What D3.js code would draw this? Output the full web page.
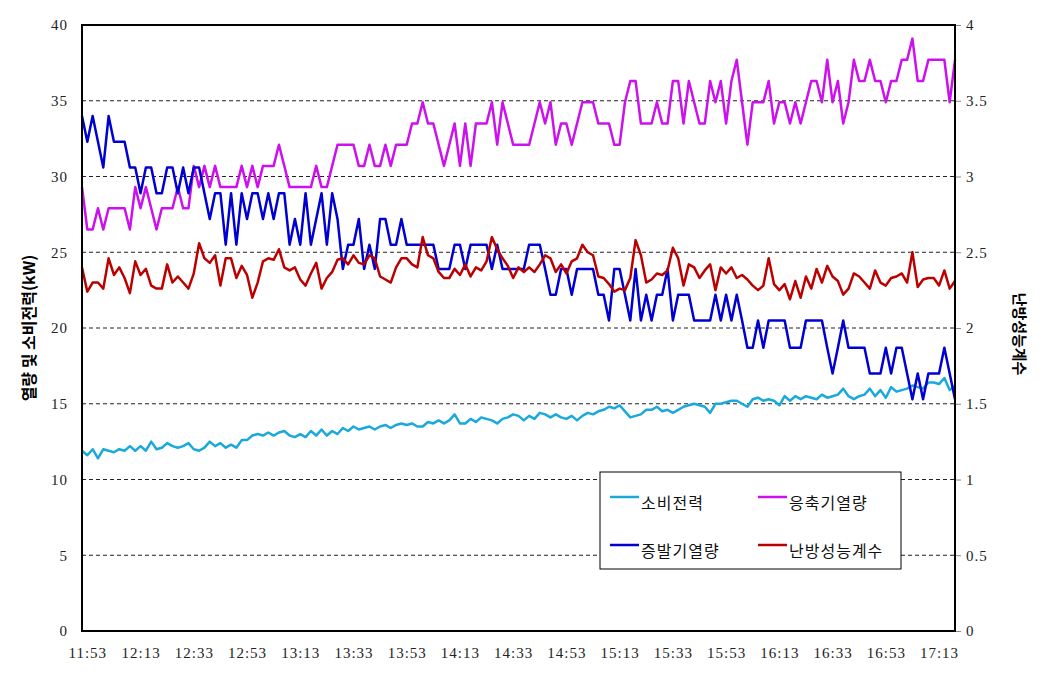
<!DOCTYPE html>
<html><head><meta charset="utf-8">
<script src="https://cdn.jsdelivr.net/npm/d3@7"></script>
<style>body{margin:0;background:#fff} svg{display:block}</style>
</head><body>
<svg id="chart" width="1043" height="679"></svg>
<script>
// ---- data (one sample every 2 minutes, starting 2 minutes before 11:53) ----
const startMinute = -2;
const stepMinutes = 2;
const timeLabels = ["11:53","12:13","12:33","12:53","13:13","13:33","13:53","14:13","14:33","14:53","15:13","15:33","15:53","16:13","16:33","16:53","17:13"];
const tickMinutes = [0,20,40,60,80,100,120,140,160,180,200,220,240,260,280,300,320];
const leftTicks = [0,5,10,15,20,25,30,35,40];
const rightTicks = [0,0.5,1,1.5,2,2.5,3,3.5,4];
const seriesNames = ["소비전력","응축기열량","증발기열량","난방성능계수"];

// 소비전력 (kW)
const power = [
 11.9,11.6,12.0,11.4,12.0,11.9,11.8,12.0,11.9,12.2,11.9,12.2,11.9,12.5,12.0,12.1,12.4,12.2,12.1,12.2,
 12.4,12.0,11.9,12.1,12.5,12.2,12.4,12.1,12.3,12.1,12.6,12.6,12.9,13.0,12.9,13.1,12.9,13.1,13.2,12.9,
 12.8,13.0,12.8,13.2,12.9,13.3,12.9,13.2,13.0,13.4,13.2,13.5,13.3,13.4,13.5,13.3,13.5,13.6,13.4,13.6,13.7,
 13.6,13.7,13.5,13.5,13.8,13.7,13.9,13.7,13.9,14.3,13.7,13.7,14.0,13.8,14.1,14.0,13.9,13.7,14.0,14.1,14.3,
 14.2,13.9,14.2,14.0,14.4,14.3,14.1,14.3,14.1,14.0,14.2,13.9,14.2,14.4,14.3,14.5,14.6,14.8,14.7,14.9,
 14.5,14.1,14.2,14.3,14.6,14.6,14.8,14.5,14.6,14.4,14.6,14.8,14.9,15.0,14.9,14.8,14.4,15.0,15.0,15.1,15.2,
 15.2,15.0,14.8,15.3,15.4,15.2,15.3,15.2,14.9,15.5,15.2,15.5,15.3,15.5,15.4,15.3,15.6,15.4,15.5,15.6,16.0,
 15.5,15.3,15.5,15.6,16.0,15.5,15.9,15.4,16.1,15.8,15.9,16.0,16.2,16.1,16.0,16.4,16.4,16.3,16.7,15.9,16.2
];
// 응축기열량 (kW)
const condenser = [
 29.3,26.5,26.5,27.9,26.5,27.9,27.9,27.9,27.9,26.5,29.3,27.9,29.3,27.9,26.5,27.9,27.9,27.9,29.3,27.9,
 27.9,30.7,29.3,30.7,29.3,30.7,29.3,29.3,29.3,29.3,30.7,29.3,30.7,29.3,30.7,30.7,30.7,32.1,30.7,29.3,
 29.3,29.3,29.3,29.3,30.7,29.3,29.3,30.7,32.1,32.1,32.1,32.1,30.7,30.7,32.1,30.7,30.7,32.1,30.7,32.1,32.1,
 32.1,33.5,33.5,34.9,33.5,33.5,32.1,30.7,32.1,33.5,30.7,33.5,30.7,33.5,33.5,33.5,34.9,32.1,34.9,33.5,32.1,
 32.1,32.1,32.1,33.5,34.9,33.5,34.9,32.1,33.5,33.5,32.1,33.5,34.9,34.9,34.9,33.5,33.5,33.5,32.1,32.1,
 34.9,36.3,36.3,33.5,33.5,33.5,34.9,33.5,33.5,36.3,36.3,33.5,36.3,34.9,33.5,33.5,36.3,34.9,36.3,33.5,36.3,
 37.7,34.9,32.1,34.9,34.9,34.9,36.3,33.5,34.9,34.9,33.5,34.9,33.5,34.9,36.3,36.3,34.9,37.7,34.9,36.3,33.5,
 34.9,37.7,36.3,36.3,37.7,36.3,36.3,34.9,36.3,36.3,37.7,37.7,39.1,36.3,36.3,37.7,37.7,37.7,37.7,34.9,37.7
];
// 증발기열량 (kW)
const evaporator = [
 34.0,32.3,34.0,32.3,30.6,34.0,32.3,32.3,32.3,30.6,30.6,28.9,30.6,30.6,28.9,28.9,30.6,30.6,28.9,30.6,
 28.9,30.6,30.6,28.9,27.2,28.9,28.9,25.5,28.9,25.5,28.9,27.2,28.9,28.9,27.2,28.9,27.2,28.9,28.9,25.5,
 27.2,25.5,28.9,25.5,27.2,28.9,25.5,28.9,27.2,23.9,25.5,25.5,27.2,23.9,25.5,23.9,27.2,27.2,25.5,25.5,27.2,
 25.5,25.5,25.5,25.5,25.5,25.5,23.9,23.9,23.9,25.5,25.5,23.9,25.5,25.5,25.5,25.5,23.9,25.5,23.9,23.9,23.9,
 23.9,23.9,25.5,25.5,25.5,23.9,22.2,22.2,23.9,23.9,22.2,23.9,23.9,23.9,23.9,22.2,22.2,20.5,23.9,23.9,
 22.2,20.5,23.9,20.5,22.2,20.5,22.2,22.2,23.9,20.5,22.2,22.2,22.2,20.5,20.5,20.5,20.5,22.2,20.5,22.2,20.5,
 22.2,20.5,18.7,18.7,20.5,18.7,20.5,20.5,20.5,20.5,18.7,18.7,18.7,20.5,20.5,20.5,20.5,18.7,17.0,18.7,20.5,
 18.7,18.7,18.7,18.7,17.0,17.0,17.0,18.7,17.0,18.7,18.7,17.0,15.3,17.0,15.3,17.0,17.0,17.0,18.7,17.0,15.3
];
// 난방성능계수 (right axis)
const cop = [
 2.40,2.24,2.30,2.30,2.26,2.46,2.35,2.40,2.33,2.23,2.44,2.35,2.39,2.28,2.26,2.26,2.42,2.30,2.34,2.30,
 2.26,2.36,2.56,2.46,2.43,2.48,2.28,2.46,2.46,2.33,2.41,2.35,2.20,2.30,2.44,2.46,2.45,2.52,2.40,2.38,
 2.40,2.32,2.28,2.36,2.43,2.26,2.33,2.37,2.45,2.46,2.42,2.48,2.43,2.42,2.48,2.46,2.34,2.32,2.30,2.40,2.46,
 2.46,2.42,2.40,2.60,2.48,2.46,2.37,2.33,2.33,2.39,2.35,2.42,2.34,2.40,2.38,2.44,2.60,2.52,2.46,2.41,2.33,
 2.40,2.37,2.40,2.37,2.42,2.48,2.46,2.37,2.42,2.36,2.44,2.46,2.55,2.50,2.48,2.34,2.33,2.29,2.24,2.26,
 2.25,2.33,2.58,2.48,2.30,2.32,2.36,2.35,2.38,2.53,2.46,2.28,2.42,2.40,2.33,2.38,2.42,2.25,2.40,2.36,2.40,
 2.33,2.35,2.32,2.28,2.25,2.28,2.46,2.29,2.25,2.29,2.19,2.31,2.20,2.34,2.26,2.39,2.30,2.41,2.34,2.31,2.22,
 2.26,2.36,2.34,2.30,2.26,2.38,2.30,2.28,2.33,2.34,2.36,2.30,2.50,2.27,2.32,2.33,2.33,2.28,2.38,2.26,2.31
];
const colors = ["#1aa9dc","#cc11ee","#0000d0","#bb0000"];

// ---- layout ----
const svg = d3.select("#chart");
const L = 82, R = 955, T = 25, B = 631;
const x = d3.scaleLinear().domain([startMinute, startMinute + stepMinutes*(power.length-1)]).range([L, R]);
const yL = d3.scaleLinear().domain([0,40]).range([B, T]);
const yR = d3.scaleLinear().domain([0,4]).range([B, T]);
const serif = "'Liberation Serif','Times New Roman',serif";
const kr = "'Noto Sans CJK KR','Noto Sans',sans-serif";
const tickFont = 15;

// gridlines
svg.append("g").selectAll("line").data(leftTicks.filter(v => v > 0 && v < 40)).join("line")
  .attr("x1", L).attr("x2", R).attr("y1", d => yL(d)).attr("y2", d => yL(d))
  .attr("stroke", "#222").attr("stroke-width", 1).attr("stroke-dasharray", "4,3");

// left axis
const gl = svg.append("g").attr("transform", `translate(${L - 14},0)`)
  .call(d3.axisLeft(yL).tickValues(leftTicks).tickSize(0).tickPadding(0));
gl.select(".domain").remove();
gl.selectAll("text").attr("font-family", serif).attr("font-size", tickFont)
  .attr("letter-spacing", 1).attr("fill", "#222");

// right axis
const gr = svg.append("g").attr("transform", `translate(${R},0)`)
  .call(d3.axisRight(yR).tickValues(rightTicks).tickSize(6).tickPadding(5).tickFormat(d => String(d)));
gr.select(".domain").remove();
gr.selectAll("line").attr("stroke", "#888");
gr.selectAll("text").attr("font-family", serif).attr("font-size", tickFont)
  .attr("letter-spacing", 1).attr("fill", "#222");

// bottom axis
const gb = svg.append("g").attr("transform", `translate(0,${B + 16})`)
  .call(d3.axisBottom(x).tickValues(tickMinutes).tickSize(0).tickPadding(0).tickFormat((d, i) => timeLabels[i]));
gb.select(".domain").remove();
gb.selectAll("text").attr("font-family", serif).attr("font-size", tickFont)
  .attr("letter-spacing", 1).attr("fill", "#222");

// series
const lineL = d3.line().x((d, i) => x(startMinute + i*stepMinutes)).y(d => yL(d));
const lineR = d3.line().x((d, i) => x(startMinute + i*stepMinutes)).y(d => yR(d));
const seriesData = [[power, lineL],[condenser, lineL],[evaporator, lineL],[cop, lineR]];
seriesData.forEach(([vals, gen], k) => {
  svg.append("path").attr("d", gen(vals)).attr("fill", "none")
    .attr("stroke", colors[k]).attr("stroke-width", 2.5).attr("stroke-linejoin", "round");
});

// frame
svg.append("rect").attr("x", L).attr("y", T).attr("width", R - L).attr("height", B - T)
  .attr("fill", "none").attr("stroke", "#000").attr("stroke-width", 2);

// axis titles
svg.append("text").attr("transform", `translate(35,${(T + B)/2}) rotate(-90)`)
  .attr("text-anchor", "middle").attr("font-family", kr).attr("font-weight", "bold")
  .attr("font-size", 16).text("열량 및 소비전력(kW)");
svg.append("text").attr("transform", `translate(1014,${(T + B)/2 + 6}) rotate(90)`)
  .attr("text-anchor", "middle").attr("font-family", kr).attr("font-weight", "bold")
  .attr("font-size", 15).text("난방성능계수");

// legend
const lg = svg.append("g").attr("transform", "translate(600,472)");
lg.append("rect").attr("width", 301).attr("height", 97).attr("fill", "#fff").attr("stroke", "#000").attr("stroke-width", 1);
const legendPos = [[10,25],[158,25],[10,73],[158,73]];
seriesNames.forEach((nm, k) => {
  const [px, py] = legendPos[k];
  lg.append("line").attr("x1", px).attr("x2", px + 29).attr("y1", py).attr("y2", py)
    .attr("stroke", colors[k]).attr("stroke-width", 2.5);
  lg.append("text").attr("x", px + 31).attr("y", py + 12).attr("font-family", kr)
    .attr("font-size", 16).attr("letter-spacing", 1).attr("fill", "#111").text(nm);
});
</script>
</body></html>
